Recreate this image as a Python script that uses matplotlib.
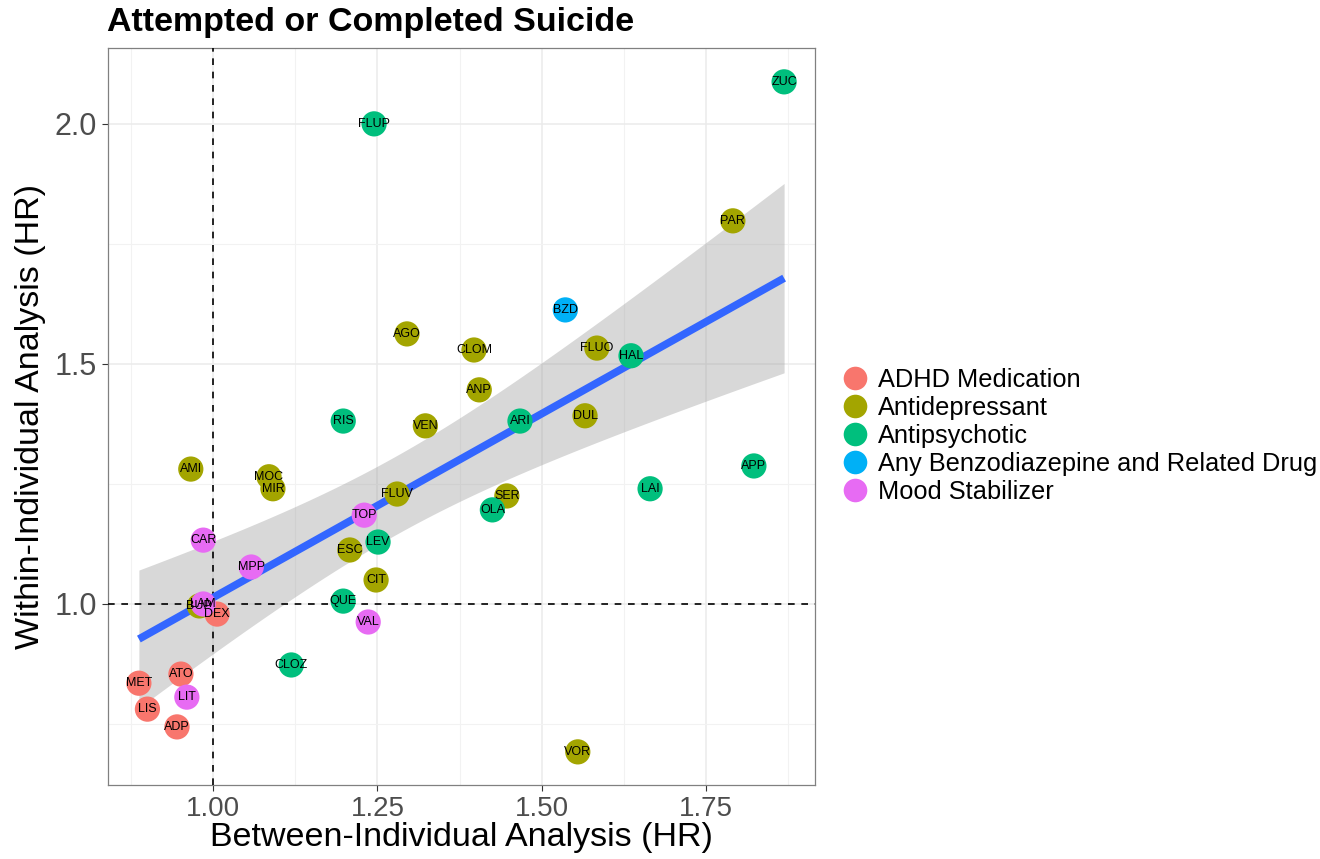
import numpy as np
import matplotlib
matplotlib.use("Agg")
import matplotlib.pyplot as plt
from matplotlib.lines import Line2D

plt.rcParams['font.family'] = ['Liberation Sans', 'DejaVu Sans']

labels = ["MET", "LIS", "ATO", "ADP", "DEX",
          "AMI", "MOC", "MIR", "AGO", "CLOM", "ANP", "VEN", "FLUV", "SER", "ESC", "CIT",
          "FLUO", "DUL", "PAR", "VOR", "BUP",
          "FLUP", "RIS", "ARI", "HAL", "APP", "LAI", "OLA", "LEV", "QUE", "CLOZ", "ZUC",
          "BZD",
          "CAR", "MPP", "LAM", "TOP", "VAL", "LIT"]
groups = ["ADHD Medication"] * 5 + ["Antidepressant"] * 16 + ["Antipsychotic"] * 11 + \
         ["Any Benzodiazepine and Related Drug"] + ["Mood Stabilizer"] * 6
between = [0.887, 0.900, 0.951, 0.945, 1.006,
           0.966, 1.085, 1.091, 1.295, 1.397, 1.405, 1.323, 1.280, 1.447, 1.208, 1.248,
           1.584, 1.566, 1.791, 1.555, 0.979,
           1.245, 1.198, 1.467, 1.636, 1.823, 1.665, 1.425, 1.251, 1.198, 1.119, 1.869,
           1.536,
           0.985, 1.058, 0.985, 1.230, 1.236, 0.960]
within = [0.835, 0.781, 0.854, 0.744, 0.979,
          1.281, 1.265, 1.240, 1.5625, 1.529, 1.446, 1.371, 1.229, 1.225, 1.1125, 1.050,
          1.533, 1.392, 1.798, 0.692, 0.996,
          2.000, 1.381, 1.381, 1.517, 1.2875, 1.240, 1.196, 1.129, 1.006, 0.873, 2.0875,
          1.6125,
          1.133, 1.077, 1.000, 1.185, 0.9625, 0.806]

group_names = ["ADHD Medication", "Antidepressant", "Antipsychotic",
               "Any Benzodiazepine and Related Drug", "Mood Stabilizer"]
group_colors = ["#F8766D", "#A3A500", "#00BF7D", "#00B0F6", "#E76BF3"]
cmap = dict(zip(group_names, group_colors))

x = np.array(between)
y = np.array(within)

fig = plt.figure(figsize=(13.2, 8.59), dpi=100)
ax = fig.add_axes([108/1320, 1-785/859, (815-108)/1320, (785-48)/859])

ax.set_xlim(0.840, 1.916)
ax.set_ylim(0.623, 2.158)

# grid
ax.set_xticks([1.0, 1.25, 1.5, 1.75])
ax.set_yticks([1.0, 1.5, 2.0])
ax.set_xticks([0.875, 1.125, 1.375, 1.625, 1.875], minor=True)
ax.set_yticks([0.75, 1.25, 1.75], minor=True)
ax.grid(True, which='major', color='#EBEBEB', lw=1.1, zorder=0)
ax.grid(True, which='minor', color='#F2F2F2', lw=0.8, zorder=0)
ax.set_axisbelow(True)
ax.set_xticklabels(["1.00", "1.25", "1.50", "1.75"])
ax.set_yticklabels(["1.0", "1.5", "2.0"])
ax.tick_params(which='minor', length=0)
ax.tick_params(which='major', length=4, color='#333333', labelcolor='#4D4D4D', pad=4)
ax.tick_params(axis='x', labelsize=20)
ax.tick_params(axis='y', labelsize=22)
for s in ax.spines.values():
    s.set_color('#808080')
    s.set_linewidth(0.9)

# regression with CI (like geom_smooth(method='lm'))
n = len(x)
b1, b0 = np.polyfit(x, y, 1)
xs = np.linspace(x.min(), x.max(), 100)
ys = b0 + b1 * xs
resid = y - (b0 + b1 * x)
s2 = np.sum(resid**2) / (n - 2)
sxx = np.sum((x - x.mean())**2)
se = np.sqrt(s2 * (1/n + (xs - x.mean())**2 / sxx))
tval = 2.02
ax.fill_between(xs, ys - tval*se, ys + tval*se, color='#999999', alpha=0.38, lw=0, zorder=2)

ax.axvline(1.0, color='black', ls=(0, (4, 4)), lw=1.2, zorder=3)
ax.axhline(1.0, color='black', ls=(0, (4, 4)), lw=1.2, zorder=3)

ax.plot(xs, ys, color='#3366FF', lw=5.5, zorder=4, solid_capstyle='butt')

cols = [cmap[g] for g in groups]
ax.scatter(x, y, s=330, c=cols, edgecolors='none', zorder=5)
for xi, yi, lab in zip(x, y, labels):
    ax.text(xi, yi, lab, ha='center', va='center', fontsize=9, color='black', zorder=6)

ax.set_xlabel("Between-Individual Analysis (HR)", fontsize=24.5, labelpad=0)
ax.set_ylabel("Within-Individual Analysis (HR)", fontsize=24.5, labelpad=6)

fig.text(107/1320, 1-23/859, "Attempted or Completed Suicide", fontsize=24.5, fontweight='bold',
         ha='left', va='center')

handles = [Line2D([0], [0], marker='o', ls='none', markersize=17, markerfacecolor=c,
                  markeredgecolor='none') for c in group_colors]
leg = fig.legend(handles, group_names, loc='center left', bbox_to_anchor=(841/1320, 1-436/859),
                 frameon=False, fontsize=18.3, handletextpad=0.35, labelspacing=0.16,
                 handlelength=1.1, borderaxespad=0, borderpad=0)

fig.savefig("out.png", dpi=100)
